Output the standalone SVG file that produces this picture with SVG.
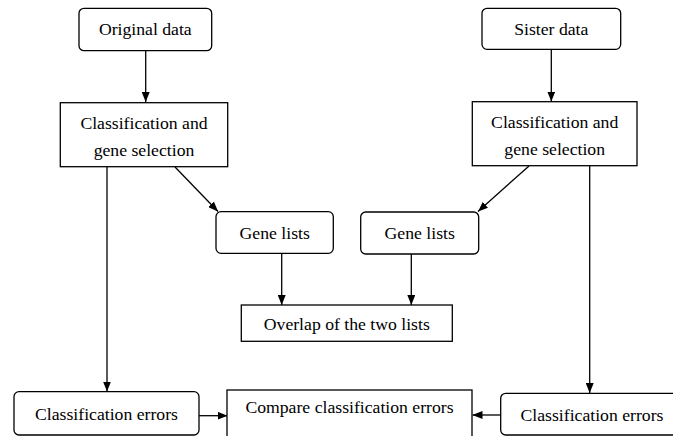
<svg xmlns="http://www.w3.org/2000/svg" width="673" height="436" viewBox="0 0 673 436">
<defs>
<marker id="ah" viewBox="0 0 10 8" refX="10" refY="4" markerWidth="10" markerHeight="8" markerUnits="userSpaceOnUse" orient="auto">
<path d="M0,0 L10,4 L0,8 Z" fill="#000"/>
</marker>
<style>
.box{fill:#fff;stroke:#000;stroke-width:1.3}
.t{font-size:17.7px;fill:#000;text-anchor:middle}
.c{stroke:#000;stroke-width:1.3;fill:none;marker-end:url(#ah)}
</style>
</defs>
<rect width="673" height="436" fill="#fff"/>
<g id="connectors">
<line class="c" x1="145.7" y1="50.7" x2="145.7" y2="102"/>
<line class="c" x1="551.3" y1="49.3" x2="551.3" y2="101.5"/>
<line class="c" x1="107" y1="167" x2="107" y2="391.5"/>
<line class="c" x1="175" y1="167" x2="218" y2="211.5"/>
<line class="c" x1="529" y1="166" x2="478" y2="211.5"/>
<line class="c" x1="589.7" y1="166" x2="589.7" y2="393"/>
<line class="c" x1="281.7" y1="253.5" x2="281.7" y2="305"/>
<line class="c" x1="411.3" y1="254" x2="411.3" y2="305"/>
<line class="c" x1="199" y1="415.7" x2="227.5" y2="415.7"/>
<line class="c" x1="501" y1="415" x2="472.5" y2="415"/>
</g>
<g font-family="Liberation Serif, DejaVu Serif, serif">
<g id="original">
<rect class="box" x="79" y="8.3" width="132.7" height="42.4" rx="5"/>
<text class="t" x="145.3" y="35">Original data</text>
</g>
<g id="sister">
<rect class="box" x="482" y="8.3" width="138.7" height="41" rx="5"/>
<text class="t" x="551.3" y="35">Sister data</text>
</g>
<g id="classL">
<rect class="box" x="60.3" y="102.7" width="167.4" height="64"/>
<text class="t" x="144" y="129">Classification and</text>
<text class="t" x="144" y="155.7">gene selection</text>
</g>
<g id="classR">
<rect class="box" x="472.3" y="101.7" width="164.7" height="64"/>
<text class="t" x="554.7" y="128">Classification and</text>
<text class="t" x="554.7" y="155">gene selection</text>
</g>
<g id="genesL">
<rect class="box" x="216" y="211.7" width="117.3" height="41.6" rx="5"/>
<text class="t" x="274.7" y="239.3">Gene lists</text>
</g>
<g id="genesR">
<rect class="box" x="360.7" y="212" width="118" height="42" rx="5"/>
<text class="t" x="419.7" y="239.3">Gene lists</text>
</g>
<g id="overlap">
<rect class="box" x="241.3" y="305" width="211" height="36.3"/>
<text class="t" x="346.8" y="330">Overlap of the two lists</text>
</g>
<g id="errL">
<rect class="box" x="14" y="391.7" width="185" height="43.3" rx="5"/>
<text class="t" x="106.5" y="420">Classification errors</text>
</g>
<g id="compare">
<rect class="box" x="227" y="390" width="245" height="50"/>
<text class="t" x="349.5" y="413.3">Compare classification errors</text>
</g>
<g id="errR">
<rect class="box" x="500.7" y="393.3" width="182" height="41.7" rx="5"/>
<text class="t" x="592" y="420.7">Classification errors</text>
</g>
</g>
</svg>
